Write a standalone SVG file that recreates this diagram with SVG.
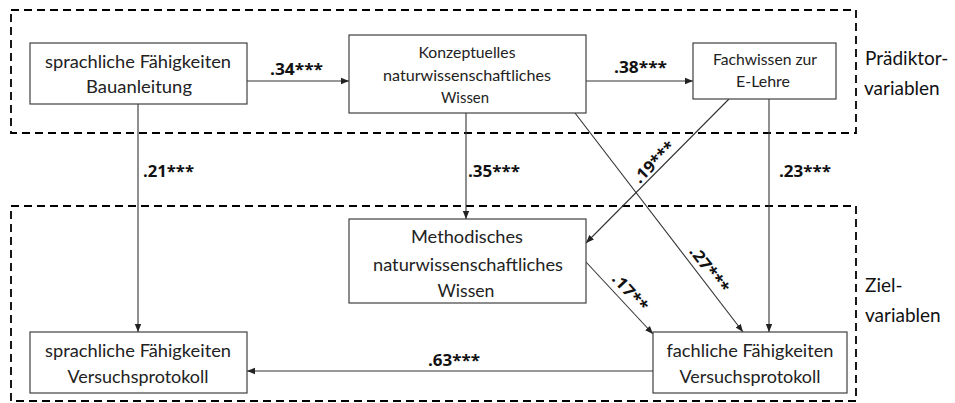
<svg xmlns="http://www.w3.org/2000/svg" width="955" height="403" viewBox="0 0 955 403">
<style>
.bg{fill:#fff}
.grp{fill:none;stroke:#000;stroke-width:1.8;stroke-dasharray:8,5}
.box{fill:#fff;stroke:#404040;stroke-width:1.2}
.t{font-family:Lato,"Open Sans","Liberation Sans",sans-serif;fill:#222;text-anchor:middle}
.big{font-size:18px}
.sm{font-size:16px}
.lbl{font-family:"Open Sans","Liberation Sans",sans-serif;font-weight:bold;font-size:16px;fill:#111}
.side{font-family:Lato,"Open Sans","Liberation Sans",sans-serif;font-size:19px;fill:#111}
.c{stroke:#333;stroke-width:1.1;fill:none;marker-end:url(#ah)}
</style>
<defs>
<marker id="ah" viewBox="0 0 10 10" refX="10" refY="5" markerWidth="8" markerHeight="8" markerUnits="userSpaceOnUse" orient="auto">
<path d="M0,1 L10,5 L0,9 z" fill="#222"/>
</marker>
</defs>
<rect class="bg" x="0" y="0" width="955" height="403"/>
<g id="groups">
<rect class="grp" x="11" y="10" width="845" height="123"/>
<rect class="grp" x="11" y="206" width="845" height="195"/>
<text class="side" x="865" y="65">Prädiktor-</text>
<text class="side" x="864" y="95">variablen</text>
<text class="side" x="865" y="292">Ziel-</text>
<text class="side" x="865" y="322">variablen</text>
</g>
<g id="connectors">
<line class="c" x1="247" y1="81" x2="349" y2="81"/>
<line class="c" x1="586" y1="81" x2="693" y2="81"/>
<line class="c" x1="138" y1="104" x2="138" y2="332"/>
<line class="c" x1="466" y1="113" x2="466" y2="219"/>
<line class="c" x1="729" y1="99" x2="586" y2="243"/>
<line class="c" x1="769" y1="99" x2="769" y2="332"/>
<line class="c" x1="575" y1="113" x2="743" y2="332"/>
<line class="c" x1="586" y1="262" x2="653" y2="334"/>
<line class="c" x1="653" y1="371" x2="247" y2="371"/>
<text class="lbl" x="270" y="75" textLength="53" lengthAdjust="spacingAndGlyphs">.34***</text>
<text class="lbl" x="614" y="73" textLength="53" lengthAdjust="spacingAndGlyphs">.38***</text>
<text class="lbl" x="143" y="177" textLength="51" lengthAdjust="spacingAndGlyphs">.21***</text>
<text class="lbl" x="468" y="177" textLength="52" lengthAdjust="spacingAndGlyphs">.35***</text>
<text class="lbl" x="779" y="177" textLength="52" lengthAdjust="spacingAndGlyphs">.23***</text>
<text class="lbl" x="428" y="366" textLength="52" lengthAdjust="spacingAndGlyphs">.63***</text>
<text class="lbl" text-anchor="middle" transform="translate(658,166) rotate(-45)" textLength="52" lengthAdjust="spacingAndGlyphs">.19***</text>
<text class="lbl" text-anchor="middle" transform="translate(705,273) rotate(52.5)" textLength="54" lengthAdjust="spacingAndGlyphs">.27***</text>
<text class="lbl" text-anchor="middle" transform="translate(626,296) rotate(48)" textLength="45" lengthAdjust="spacingAndGlyphs">.17**</text>
</g>
<g id="n1">
<rect class="box" x="30" y="43" width="217" height="61"/>
<text class="t big" x="138" y="68" textLength="186" lengthAdjust="spacingAndGlyphs">sprachliche Fähigkeiten</text>
<text class="t big" x="139" y="93" textLength="106" lengthAdjust="spacingAndGlyphs">Bauanleitung</text>
</g>
<g id="n2">
<rect class="box" x="349" y="35" width="237" height="78"/>
<text class="t sm" x="467" y="58" textLength="97" lengthAdjust="spacingAndGlyphs">Konzeptuelles</text>
<text class="t sm" x="467" y="81" textLength="168" lengthAdjust="spacingAndGlyphs">naturwissenschaftliches</text>
<text class="t sm" x="465" y="103" textLength="48" lengthAdjust="spacingAndGlyphs">Wissen</text>
</g>
<g id="n3">
<rect class="box" x="693" y="43" width="143" height="56"/>
<text class="t sm" x="765" y="65" textLength="104" lengthAdjust="spacingAndGlyphs">Fachwissen zur</text>
<text class="t sm" x="763" y="87" textLength="54" lengthAdjust="spacingAndGlyphs">E-Lehre</text>
</g>
<g id="n4">
<rect class="box" x="349" y="219" width="237" height="84"/>
<text class="t big" x="467" y="243" textLength="112" lengthAdjust="spacingAndGlyphs">Methodisches</text>
<text class="t big" x="468" y="271" textLength="190" lengthAdjust="spacingAndGlyphs">naturwissenschaftliches</text>
<text class="t big" x="466" y="297" textLength="57" lengthAdjust="spacingAndGlyphs">Wissen</text>
</g>
<g id="n5">
<rect class="box" x="30" y="332" width="217" height="61"/>
<text class="t big" x="138" y="357" textLength="186" lengthAdjust="spacingAndGlyphs">sprachliche Fähigkeiten</text>
<text class="t big" x="138" y="383" textLength="141" lengthAdjust="spacingAndGlyphs">Versuchsprotokoll</text>
</g>
<g id="n6">
<rect class="box" x="653" y="332" width="194" height="61"/>
<text class="t big" x="750" y="357" textLength="167" lengthAdjust="spacingAndGlyphs">fachliche Fähigkeiten</text>
<text class="t big" x="750" y="383" textLength="141" lengthAdjust="spacingAndGlyphs">Versuchsprotokoll</text>
</g>
</svg>
